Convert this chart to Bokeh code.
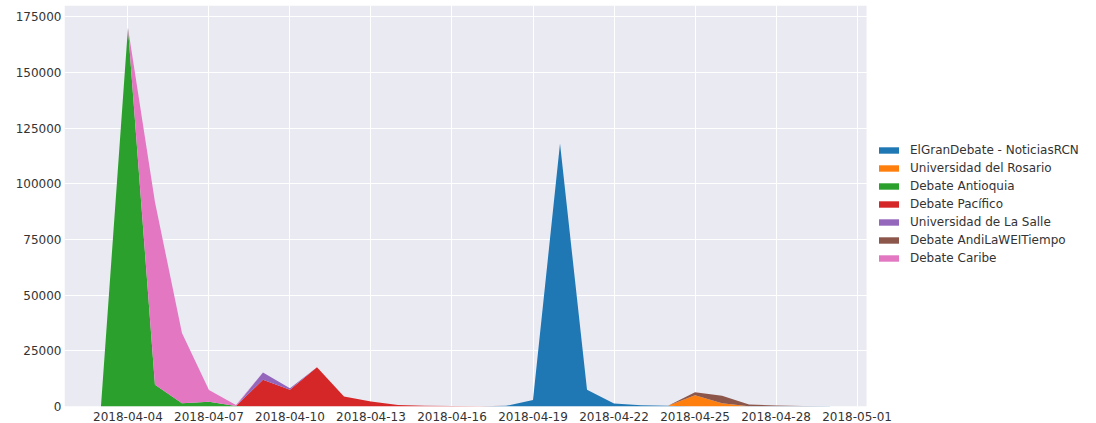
import pandas as pd
from bokeh.plotting import figure
from bokeh.models import (ColumnDataSource, Range1d, FixedTicker, DatetimeTickFormatter,
                          BasicTickFormatter, Legend, LegendItem, BoxAnnotation)
from bokeh.embed import file_html
from bokeh.resources import INLINE

# ---- data -------------------------------------------------------------
dates = [f"2018-04-{d:02d}" for d in range(3, 31)]

series_names = ["ElGranDebate - NoticiasRCN", "Universidad del Rosario", "Debate Antioquia",
                "Debate Pacífico", "Universidad de La Salle", "Debate AndiLaWEITiempo",
                "Debate Caribe"]
colors = ["#1f77b4", "#ff7f0e", "#2ca02c", "#d62728", "#9467bd", "#8c564b", "#e377c2"]

#            03  04      05     06     07    08   09     10    11     12    13    14   15   16   17   18   19    20      21    22    23   24   25    26    27   28   29   30
gran_debate = [0, 0,      0,     0,     0,    0,   0,     0,    0,     0,    0,    0,   0,   0,   0,   300, 2900, 118000, 7500, 1300, 600, 300, 0,    0,    150, 150, 150, 150]
rosario     = [0, 0,      0,     0,     0,    0,   0,     0,    0,     0,    0,    0,   0,   0,   0,   0,   0,    0,      0,    0,    0,   0,   5000, 1500, 0,    0,   0,   0]
antioquia   = [0, 170000, 9800,  1500,  2100, 200, 0,     0,    0,     0,    0,    0,   0,   0,   0,   0,   0,    0,      0,    0,    0,   0,   0,    0,    0,    0,   0,   0]
pacifico    = [0, 0,      0,     0,     0,    0,   12000, 7500, 17600, 4500, 2200, 700, 300, 200, 100, 0,   0,    0,      0,    0,    0,   0,   0,    0,    0,    0,   0,   0]
la_salle    = [0, 0,      0,     0,     0,    0,   3300,  700,  0,     0,    0,    0,   0,   0,   0,   0,   0,    0,      0,    0,    0,   0,   0,    0,    0,    0,   0,   0]
andi        = [0, 0,      0,     0,     0,    0,   0,     0,    0,     0,    0,    0,   0,   0,   0,   0,   0,    0,      0,    0,    0,   0,   1400, 3300, 700,  300, 100, 0]
caribe      = [0, 0,      82000, 31500, 5300, 500, 0,     0,    0,     0,    0,    0,   0,   0,   0,   0,   0,    0,      0,    0,    0,   0,   0,    0,    0,    0,   0,   0]

x_ticks = ["2018-04-04", "2018-04-07", "2018-04-10", "2018-04-13", "2018-04-16",
           "2018-04-19", "2018-04-22", "2018-04-25", "2018-04-28", "2018-05-01"]
y_ticks = [0, 25000, 50000, 75000, 100000, 125000, 150000, 175000]

# ---- build ------------------------------------------------------------
data = {"date": pd.to_datetime(dates)}
for name, vals in zip(series_names, [gran_debate, rosario, antioquia, pacifico,
                                      la_salle, andi, caribe]):
    data[name] = vals
source = ColumnDataSource(data)

def ms(s):
    return pd.Timestamp(s).value // 10**6

span = ms(dates[-1]) - ms(dates[0])
x_start = ms(dates[0]) - 0.05 * span
x_end = ms(dates[-1]) + 0.05 * span
y_top = 180000

W, H = 1096, 423
LEFT, TOP = 64, 5
AREA_W = 802                      # width of the shaded plotting area
frame_w = W - LEFT
x_view_end = x_start + (x_end - x_start) * frame_w / AREA_W

p = figure(width=W, height=H, x_axis_type="datetime",
           output_backend="svg", toolbar_location=None,
           x_range=Range1d(x_start, x_view_end), y_range=Range1d(0, y_top),
           min_border_left=LEFT, min_border_right=0, min_border_top=TOP, min_border_bottom=0,
           background_fill_color="white", border_fill_color="white",
           outline_line_color=None)

# shaded axes background (below the white grid lines)
p.add_layout(BoxAnnotation(left=x_start, right=x_end, bottom=0, top=y_top,
                           fill_color="#EAEAF2", fill_alpha=1, line_color=None,
                           level="image"))

renderers = p.varea_stack(stackers=series_names, x="date", color=colors, source=source)

xt = FixedTicker(ticks=[ms(t) for t in x_ticks])
p.xaxis.ticker = xt
p.xgrid.ticker = xt
fmt = "%Y-%m-%d"
p.xaxis.formatter = DatetimeTickFormatter(days=fmt, months=fmt, hours=fmt, years=fmt)
yt = FixedTicker(ticks=y_ticks)
p.yaxis.ticker = yt
p.ygrid.ticker = yt
p.yaxis.formatter = BasicTickFormatter(use_scientific=False)

for ax in (p.xaxis, p.yaxis):
    ax.axis_line_color = None
    ax.major_tick_line_color = None
    ax.minor_tick_line_color = None
    ax.major_tick_out = 0
    ax.major_tick_in = 0
    ax.minor_tick_out = 0
    ax.major_label_text_font = "DejaVu Sans"
    ax.major_label_text_font_size = "12px"
    ax.major_label_text_color = "#333333"
p.xaxis.major_label_standoff = 5
p.yaxis.major_label_standoff = 3

for g in (p.xgrid, p.ygrid):
    g.grid_line_color = "white"
    g.grid_line_width = 1

legend = Legend(items=[LegendItem(label=n, renderers=[r]) for n, r in zip(series_names, renderers)],
                location=(AREA_W + 10, 140))
legend.border_line_color = None
legend.background_fill_alpha = 0
legend.padding = 0
legend.margin = 0
legend.spacing = 2
legend.label_height = 16
legend.glyph_height = 8
legend.glyph_width = 25
legend.label_standoff = 9
legend.label_text_font = "DejaVu Sans"
legend.label_text_font_size = "12px"
legend.label_text_color = "#333333"
p.add_layout(legend)

open("out.html", "w").write(file_html(p, INLINE))
